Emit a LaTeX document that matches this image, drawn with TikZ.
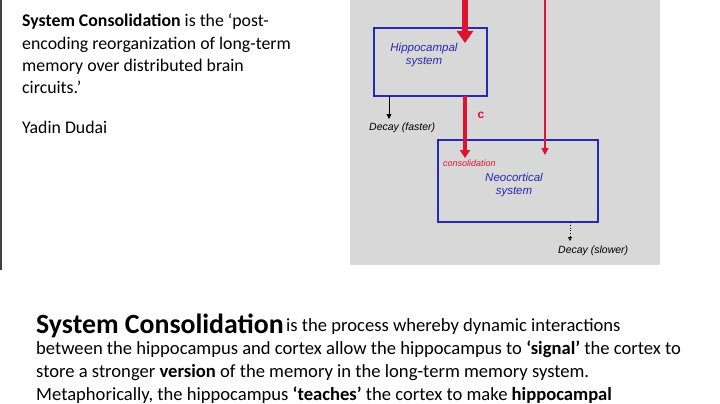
\documentclass[tikz,border=0pt]{standalone}
\usepackage{fontspec}
\setmainfont{Carlito}
\newfontfamily\hand{Liberation Sans}
\usetikzlibrary{arrows.meta}
\definecolor{pen}{RGB}{40,40,180}
\definecolor{rd}{RGB}{220,20,50}
\definecolor{panel}{RGB}{216,216,216}
\tikzset{
 txt/.style={anchor=base west,inner sep=0pt,font=\fontsize{18.6}{20}\selectfont},
 ltxt/.style={anchor=base west,inner sep=0pt,font=\fontsize{17.8}{20}\selectfont},
 hbox/.style={draw=pen,line width=1.2pt,fill=panel,inner sep=0pt},
 htext/.style={text=pen,font=\hand\itshape\fontsize{11.5}{13}\selectfont,align=center},
 small/.style={font=\hand\itshape\fontsize{10.5}{11}\selectfont,inner sep=0pt}
}
\begin{document}
\begin{tikzpicture}[x=1pt,y=-1pt]
\useasboundingbox (0,0) rectangle (720,404);
\fill[white] (0,0) rectangle (720,404);
\fill[black!75] (0,0) rectangle (2,270);
\fill[panel] (350,0) rectangle (660,265);
% left text
\node[ltxt] (l1) at (22,27) {\textbf{System Consolidation} is the ‘post-};
\node[ltxt] (l2) at (22,49) {encoding reorganization of long-term};
\node[ltxt] (l3) at (22,71) {memory over distributed brain};
\node[ltxt] (l4) at (22,93) {circuits.’};
\node[ltxt] (l5) at (22,133) {Yadin Dudai};
% diagram
\node[hbox,minimum width=113pt,minimum height=68pt] (hip) at (430.5,62) {};
\node[htext] (hipt) at (424,55) {Hippocampal\\system};
\node[hbox,minimum width=160pt,minimum height=82pt] (neo) at (518,181) {};
\node[htext] (neot) at (514,185) {Neocortical\\system};
\coordinate (top1) at (465,0);
\coordinate (top2) at (545,0);
\draw[rd,line width=6pt,-{Triangle[length=12pt,width=16pt]}] (top1) -- (465,43);
\draw[rd,line width=3.5pt,-{Triangle[length=8pt,width=10pt]}] (465,96) -- (465,158);
\draw[rd,line width=1.2pt,-{Triangle[length=7pt,width=7pt]}] (top2) -- (545,155);
\node[text=rd,font=\hand\bfseries\fontsize{12}{12}\selectfont] (c) at (481,115) {c};
\node[small,text=rd,anchor=west,font=\hand\itshape\fontsize{9}{9}\selectfont] (cons) at (443,163) {consolidation};
\draw[black,line width=0.8pt,-{Triangle[length=5pt,width=5pt]}] (389,96) -- (389,119);
\node[small,anchor=west] (df) at (369,128) {Decay (faster)};
\draw[black,line width=0.8pt,dotted,-{Triangle[length=4pt,width=4pt,open]}] (570,222) -- (570,241);
\node[small,anchor=west] (ds) at (558,251) {Decay (slower)};
% bottom text
\node[anchor=base west,inner sep=0pt,font=\bfseries\fontsize{27.8}{30}\selectfont] (b0) at (36,333) {System Consolidation};
\node[txt] (b1) at (286,331) {is the process whereby dynamic interactions};
\node[txt] (b2) at (36,354) {between the hippocampus and cortex allow the hippocampus to \textbf{‘signal’} the cortex to};
\node[txt] (b3) at (36,377) {store a stronger \textbf{version} of the memory in the long-term memory system.};
\node[txt] (b4) at (36,400) {Metaphorically, the hippocampus \textbf{‘teaches’} the cortex to make \textbf{hippocampal}};
\end{tikzpicture}
\end{document}
